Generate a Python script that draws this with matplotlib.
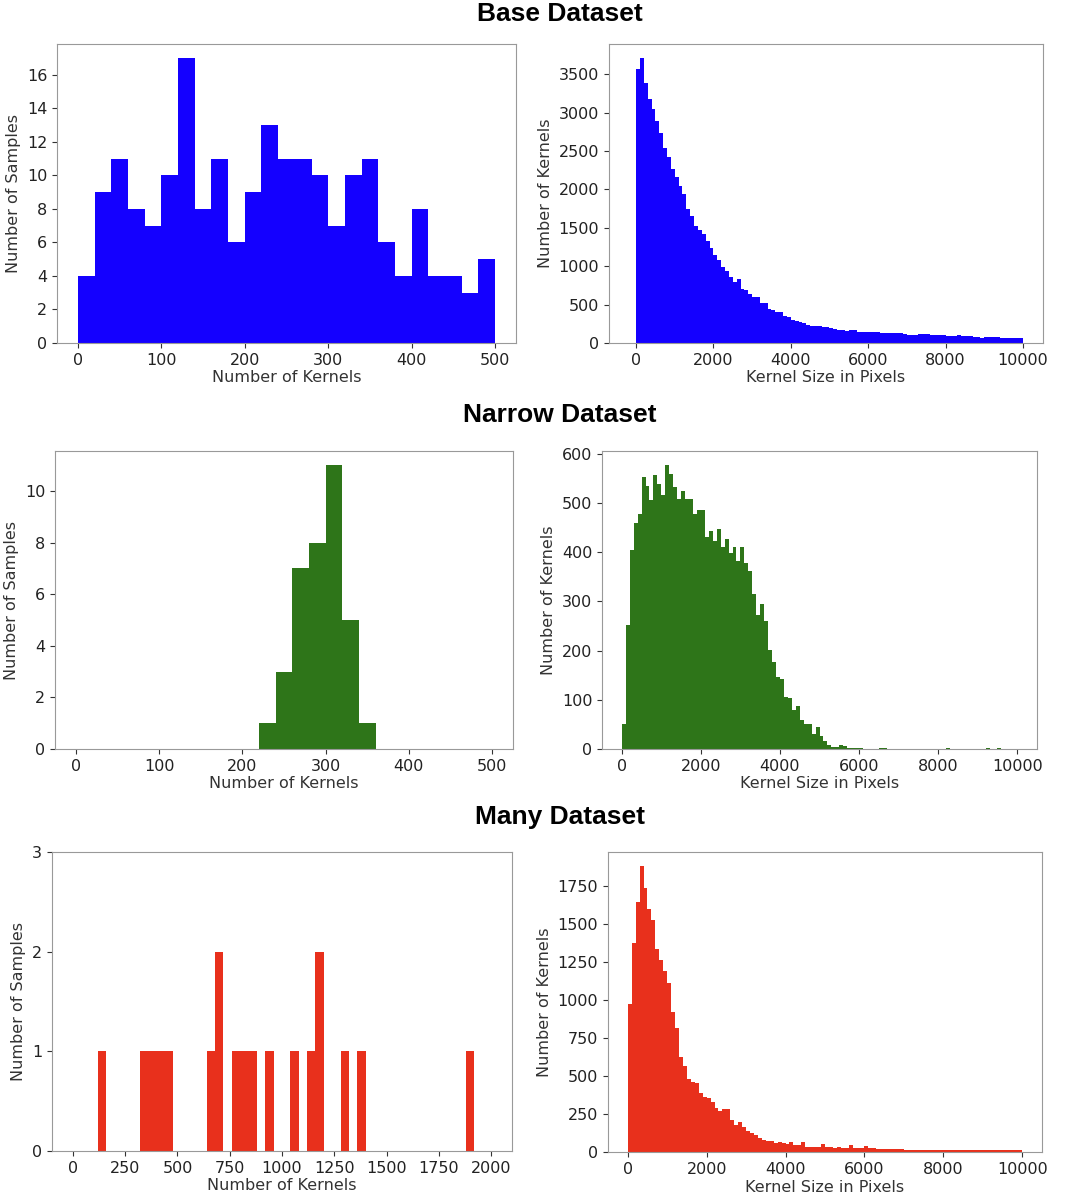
import numpy as np
import matplotlib
matplotlib.use("Agg")
import matplotlib.pyplot as plt

# samples per "number of kernels" bin
base_kernel_edges = np.arange(0, 501, 20)
base_kernel_counts = [4, 9, 11, 8, 7, 10, 17, 8, 11, 6, 9, 13, 11, 11, 10,
                      7, 10, 11, 6, 4, 8, 4, 4, 3, 5]

narrow_kernel_edges = np.arange(0, 501, 20)
narrow_kernel_counts = [0, 0, 0, 0, 0, 0, 0, 0, 0, 0, 0, 1, 3, 7, 8,
                        11, 5, 1, 0, 0, 0, 0, 0, 0, 0]

many_kernel_edges = np.arange(0, 2001, 40)
many_kernel_counts = [0, 0, 0, 1, 0, 0, 0, 0, 1, 1, 1, 1, 0, 0, 0, 0, 1, 2,
                      0, 1, 1, 1, 0, 1, 0, 0, 1, 0, 1, 2, 0, 0, 1, 0, 1, 0,
                      0, 0, 0, 0, 0, 0, 0, 0, 0, 0, 0, 1, 0, 0]

# kernels per size bin (width 100 px, 0..10000)
size_edges = np.arange(0, 10001, 100)

base_size_counts = [
    3565, 3708, 3391, 3174, 3044, 2892, 2732, 2545, 2428, 2264,
    2160, 2047, 1938, 1743, 1648, 1526, 1474, 1422, 1331, 1236,
    1149, 1084, 989, 941, 859, 789, 833, 703, 685, 642,
    598, 598, 520, 520, 442, 434, 399, 408, 347, 338,
    304, 282, 269, 260, 234, 225, 225, 217, 208, 208,
    191, 182, 173, 165, 156, 165, 173, 147, 147, 147,
    139, 147, 139, 130, 130, 130, 130, 130, 130, 121,
    108, 108, 108, 113, 113, 113, 108, 104, 100, 100,
    95, 95, 91, 100, 95, 87, 87, 82, 78, 69,
    78, 82, 73, 73, 69, 65, 60, 65, 60, 60,
]

narrow_size_counts = [
    50, 253, 405, 460, 477, 552, 535, 506, 558, 538,
    516, 577, 560, 533, 508, 525, 508, 508, 477, 486,
    486, 430, 444, 422, 447, 411, 427, 398, 410, 383,
    410, 378, 361, 316, 273, 295, 260, 201, 177, 147,
    142, 105, 103, 80, 88, 59, 51, 51, 31, 45,
    26, 16, 9, 5, 5, 9, 7, 3, 3, 2,
    2, 0, 0, 0, 0, 3, 3, 0, 0, 0,
    0, 0, 0, 0, 0, 0, 0, 0, 0, 0,
    0, 0, 3, 0, 0, 0, 0, 0, 0, 0,
    0, 0, 3, 0, 0, 3, 0, 0, 0, 0,
]

many_size_counts = [
    974, 1376, 1646, 1882, 1739, 1603, 1530, 1337, 1262, 1189,
    1112, 919, 816, 629, 567, 479, 464, 457, 387, 365,
    358, 328, 292, 273, 286, 281, 211, 178, 200, 163,
    141, 127, 110, 90, 79, 75, 73, 62, 66, 62,
    53, 66, 48, 44, 68, 35, 35, 35, 31, 53,
    30, 30, 28, 30, 26, 26, 44, 26, 26, 26,
    40, 26, 24, 22, 22, 22, 18, 18, 18, 18,
    15, 15, 15, 15, 15, 15, 15, 15, 15, 15,
    12, 12, 12, 12, 12, 12, 12, 12, 12, 12,
    10, 10, 10, 10, 10, 10, 10, 10, 10, 10,
]

row_titles = ["Base Dataset", "Narrow Dataset", "Many Dataset"]
row_colors = ["#1400ff", "#2e7519", "#e8301c"]

rows = [
    (base_kernel_edges, base_kernel_counts, base_size_counts),
    (narrow_kernel_edges, narrow_kernel_counts, narrow_size_counts),
    (many_kernel_edges, many_kernel_counts, many_size_counts),
]

# axes boxes in pixels: (left, right, top, bottom)
W, H = 1084, 1198
left_boxes = [(57, 516, 44, 343), (55, 513, 451, 749), (52, 512, 852, 1151)]
right_boxes = [(609, 1043, 44, 343), (602, 1037, 451, 749), (608, 1042, 852, 1152)]
title_y = [14, 415, 817]

def px_axes(fig, box):
    l, r, t, b = box
    return fig.add_axes([l / W, 1 - b / H, (r - l) / W, (b - t) / H])

def style_axes(ax):
    for s in ax.spines.values():
        s.set_color("#999999")
    ax.tick_params(labelsize=11.5, colors="#222222", color="#333333")

fig = plt.figure(figsize=(W / 100, H / 100), dpi=100)

for i, (k_edges, k_counts, s_counts) in enumerate(rows):
    c = row_colors[i]

    ax = px_axes(fig, left_boxes[i])
    ax.hist(k_edges[:-1], bins=k_edges, weights=k_counts,
            histtype="stepfilled", color=c)
    ax.set_xlabel("Number of Kernels", fontsize=11.5, color="#333333", labelpad=2)
    ax.set_ylabel("Number of Samples", fontsize=11.5, color="#333333")
    if i == 2:
        ax.set_ylim(0, 3)
        ax.set_yticks([0, 1, 2, 3])
    style_axes(ax)

    ax = px_axes(fig, right_boxes[i])
    ax.hist(size_edges[:-1], bins=size_edges, weights=s_counts,
            histtype="stepfilled", color=c)
    ax.set_xlabel("Kernel Size in Pixels", fontsize=11.5, color="#333333", labelpad=2)
    ax.set_ylabel("Number of Kernels", fontsize=11.5, color="#333333")
    if i == 0:
        ax.set_xlim(-700, 10520)
    style_axes(ax)

    fig.text(560 / W, 1 - title_y[i] / H, row_titles[i], ha="center", va="center",
             fontsize=19, fontweight="bold", family="Liberation Sans")

fig.savefig("out.png", dpi=100)
